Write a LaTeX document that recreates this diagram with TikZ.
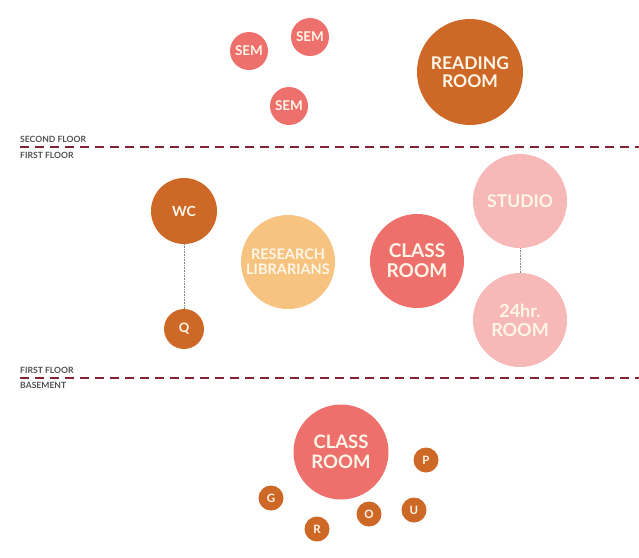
\documentclass[tikz,border=0pt]{standalone}
\usepackage{fontspec}
\setmainfont{Lato}
\definecolor{rust}{RGB}{206,104,38}
\definecolor{salmon}{RGB}{238,112,108}
\definecolor{sand}{RGB}{246,196,128}
\definecolor{blush}{RGB}{247,185,184}
\definecolor{cream}{RGB}{255,246,232}
\definecolor{floorline}{RGB}{128,36,52}
\definecolor{labelgrey}{RGB}{80,80,80}
\tikzset{
  room/.style={circle, inner sep=0pt, align=center, text=cream,
    font=\bfseries\fontsize{#1}{#1}\selectfont},
  floorlabel/.style={anchor=west, inner sep=0pt, text=labelgrey,
    font=\bfseries\fontsize{8.6}{9}\selectfont},
  floorrule/.style={floorline, line width=1.3pt, dash pattern=on 9pt off 6pt},
  link/.style={gray, line width=0.6pt, densely dotted}
}
\begin{document}
\begin{tikzpicture}[x=1pt, y=-1pt]
  \useasboundingbox (0,0) rectangle (639,557);
  % second floor
  \node[room=13.5, fill=salmon, minimum size=38pt] (sema) at (249,51) {SEM};
  \node[room=13.5, fill=salmon, minimum size=38pt] (semb) at (310,37) {SEM};
  \node[room=13.5, fill=salmon, minimum size=38pt] (semc) at (289,106) {SEM};
  \node[room=17.5, fill=rust, minimum size=106pt] (reading) at (470,72) {READING\\ROOM};
  % floor divide
  \node[floorlabel] (lbltwo) at (20,139) {SECOND FLOOR};
  \node[floorlabel] (lblone) at (20,155) {FIRST FLOOR};
  \coordinate (divA) at (20,147);
  \coordinate (divAend) at (639,147);
  \draw[floorrule] (divA) -- (divAend);
  % first floor
  \node[room=14, fill=rust, minimum size=66pt] (wc) at (184,211) {WC};
  \node[room=13, fill=rust, minimum size=40pt] (q) at (184,329) {Q};
  \draw[link] (wc) -- (q);
  \node[room=14.5, fill=sand, minimum size=94pt] (research) at (288,262) {RESEARCH\\[1pt]LIBRARIANS};
  \node[room=19, fill=salmon, minimum size=94pt] (classone) at (417,261) {CLASS\\[1pt]ROOM};
  \node[room=17.5, fill=blush, minimum size=94pt] (studio) at (520,201) {STUDIO};
  \node[room=18, fill=blush, minimum size=94pt] (hrroom) at (520,320) {24hr.\\[1pt]ROOM};
  \draw[link] (studio) -- (hrroom);
  % floor divide
  \node[floorlabel] (lblthree) at (20,370) {FIRST FLOOR};
  \node[floorlabel] (lblbase) at (20,385) {BASEMENT};
  \coordinate (divB) at (20,378);
  \coordinate (divBend) at (639,378);
  \draw[floorrule] (divB) -- (divBend);
  % basement
  \node[room=18.5, fill=salmon, minimum size=95pt] (classbase) at (341,452) {CLASS\\[1pt]ROOM};
  \node[room=11.5, fill=rust, minimum size=25pt] (g) at (271,498) {G};
  \node[room=11.5, fill=rust, minimum size=25pt] (r) at (317,529) {R};
  \node[room=11.5, fill=rust, minimum size=25pt] (o) at (369,514) {O};
  \node[room=11.5, fill=rust, minimum size=25pt] (u) at (414,510) {U};
  \node[room=11.5, fill=rust, minimum size=25pt] (p) at (426,460) {P};
\end{tikzpicture}
\end{document}
